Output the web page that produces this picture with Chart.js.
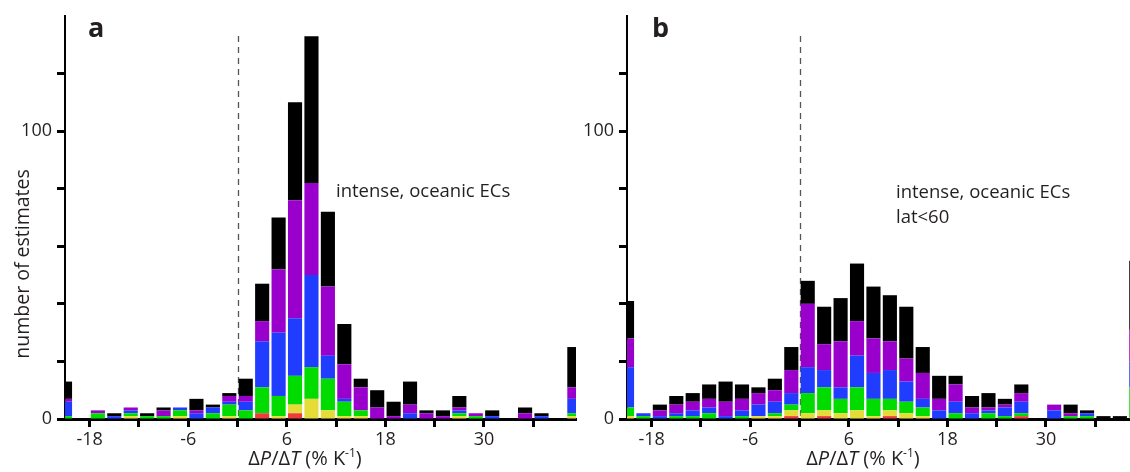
<!DOCTYPE html>
<html>
<head>
<meta charset="utf-8">
<script src="https://cdn.jsdelivr.net/npm/chart.js@4.4.1/dist/chart.umd.min.js"></script>
<style>
  html, body { margin: 0; padding: 0; background: #fff; overflow: hidden; }
  #wrap { position: relative; width: 1130px; height: 472px; }
  canvas { position: absolute; top: 0; }
  #ca { left: 0; }
  #cb { left: 580px; }
</style>
</head>
<body>
<div id="wrap">
  <canvas id="ca" width="580" height="472"></canvas>
  <canvas id="cb" width="550" height="472"></canvas>
</div>
<script>
// bin centres (bins 2 % K-1 wide; end bins hold everything beyond)
const bins = [-21, -19, -17, -15, -13, -11, -9, -7, -5, -3, -1, 1, 3, 5, 7, 9,
              11, 13, 15, 17, 19, 21, 23, 25, 27, 29, 31, 33, 35, 37, 39, 41];

// panel a: intense, oceanic ECs
const aRed    = [0,0,0,0,0,0,0,0,0,0,0,0,2,0,2,0,0,0,0,0,0,0,0,0,0,0,0,0,0,0,0,0];
const aYellow = [0,0,0,0,1,0,0,1,0,0,1,0,0,1,3,7,3,1,1,0,0,0,0,0,1,0,0,0,0,0,0,1];
const aGreen  = [1,0,2,0,1,1,1,2,0,2,4,3,9,7,10,11,11,5,2,0,0,0,0,0,1,1,0,0,0,0,0,1];
const aBlue   = [5,0,0,1,1,0,0,1,2,2,1,3,16,22,20,32,8,1,0,0,0,2,0,0,1,0,1,0,0,1,0,5];
const aPurple = [1,0,1,0,1,0,2,0,1,0,2,2,7,22,41,32,24,12,8,4,1,3,2,1,1,1,0,0,2,0,0,4];
const aBlack  = [6,0,0,1,0,1,1,0,4,1,1,6,13,18,34,51,26,14,3,6,5,8,1,2,4,0,2,0,2,1,0,14];

// panel b: intense, oceanic ECs, lat<60
const bRed    = [0,0,0,0,0,0,0,0,0,0,1,0,1,0,0,0,1,0,0,0,0,0,0,0,1,0,0,0,0,0,0,0];
const bYellow = [1,0,0,0,0,0,0,0,1,1,2,2,2,2,3,1,2,2,1,0,0,0,0,0,0,0,0,0,0,0,0,0];
const bGreen  = [3,1,0,1,1,2,0,1,0,1,2,7,8,5,8,6,4,4,3,0,2,0,2,1,1,0,0,1,1,0,0,11];
const bBlue   = [14,1,1,1,2,2,1,2,4,4,4,9,6,4,11,9,10,7,3,3,4,2,1,3,4,0,3,0,1,0,0,9];
const bPurple = [10,0,2,3,3,3,5,4,4,4,8,22,9,16,12,12,10,8,9,4,6,2,1,1,3,0,2,1,0,0,0,11];
const bBlack  = [13,0,2,3,3,5,7,5,2,4,8,8,13,15,20,18,16,18,9,8,3,4,5,2,3,0,0,3,1,1,1,24];

const xTicks = [-18, -12, -6, 0, 6, 12, 18, 24, 30, 36];
const xLabels = [-18, -6, 6, 18, 30];
const yTicks = [0, 20, 40, 60, 80, 100, 120];
const yLabels = [0, 100];

const colors = ['#ee3b3b', '#e5dc38', '#00dc00', '#1f3cff', '#9a00cc', '#000000'];
const seriesNames = ['red', 'yellow', 'green', 'blue', 'purple', 'black'];
const TEXT = '#231f20';
const FONT = '"Open Sans", "DejaVu Sans", sans-serif';

const xTitleParts = [
  { t: 'Δ' }, { t: 'P', it: true }, { t: '/Δ' }, { t: 'T', it: true },
  { t: ' (% K' }, { t: '-1', sup: true }, { t: ')' }
];

function drawRich(ctx, parts, cx, base, size) {
  const fontFor = p => (p.it ? 'italic ' : '') + (p.sup ? Math.round(size * 0.6) : size) + 'px ' + FONT;
  let total = 0;
  parts.forEach(p => { ctx.font = fontFor(p); p.w = ctx.measureText(p.t).width; total += p.w; });
  let x = cx - total / 2;
  ctx.textAlign = 'left';
  parts.forEach(p => {
    ctx.font = fontFor(p);
    ctx.fillText(p.t, x, p.sup ? base - size * 0.42 : base);
    x += p.w;
  });
}

const panelText = {
  id: 'panelText',
  beforeDatasetsDraw(chart, args, o) {
    const ctx = chart.ctx;
    const x0 = Math.round(chart.scales.x.getPixelForValue(0)) + 0.5;
    ctx.save();
    ctx.strokeStyle = '#555';
    ctx.lineWidth = 1.3;
    ctx.setLineDash([6, 5]);
    ctx.beginPath();
    ctx.moveTo(x0, o.dashTop);
    ctx.lineTo(x0, chart.scales.y.getPixelForValue(0));
    ctx.stroke();
    ctx.restore();
  },
  afterDraw(chart, args, o) {
    const ctx = chart.ctx;
    ctx.save();
    ctx.fillStyle = TEXT;
    ctx.textBaseline = 'alphabetic';
    ctx.textAlign = 'left';
    ctx.font = 'bold 27px ' + FONT;
    ctx.fillText(o.letter.t, o.letter.x, o.letter.y);
    ctx.font = '18.5px ' + FONT;
    o.notes.forEach(n => ctx.fillText(n.t, n.x, n.y));
    if (o.ytitle) {
      ctx.save();
      ctx.translate(o.ytitle.x, o.ytitle.y);
      ctx.rotate(-Math.PI / 2);
      ctx.textAlign = 'center';
      ctx.font = '19.5px ' + FONT;
      ctx.fillText(o.ytitle.t, 0, 0);
      ctx.restore();
    }
    drawRich(ctx, xTitleParts, o.xtitle.x, o.xtitle.y, 20);
    ctx.restore();
  }
};

function makeDatasets(series) {
  return series.map((vals, i) => ({
    label: seriesNames[i],
    data: bins.map((b, j) => ({ x: b, y: vals[j] })),
    backgroundColor: colors[i],
    borderWidth: 0,
    barPercentage: 0.86,
    categoryPercentage: 1,
    clip: 0
  }));
}

function makeChart(id, series, xMax, yAxisWidth, padRight, texts) {
  return new Chart(document.getElementById(id), {
    type: 'bar',
    data: { datasets: makeDatasets(series) },
    plugins: [panelText],
    options: {
      responsive: false,
      animation: false,
      devicePixelRatio: 1,
      layout: { padding: { top: 16, right: padRight, bottom: 0, left: 0 } },
      plugins: {
        legend: { display: false },
        tooltip: { enabled: false },
        panelText: texts
      },
      scales: {
        x: {
          type: 'linear', min: -21, max: xMax, offset: false, stacked: true,
          afterBuildTicks: s => { s.ticks = xTicks.map(v => ({ value: v })); },
          afterFit: s => { s.height = 53; },
          grid: { drawOnChartArea: false, offset: false, tickLength: 8, tickWidth: 3, tickColor: '#000' },
          border: { color: '#000', width: 3 },
          ticks: {
            autoSkip: false, maxRotation: 0, padding: 2, color: TEXT,
            font: { family: FONT, size: 18 },
            callback: v => xLabels.includes(v) ? String(v) : ''
          }
        },
        y: {
          type: 'linear', min: 0, max: 140, stacked: true,
          afterBuildTicks: s => { s.ticks = yTicks.map(v => ({ value: v })); },
          afterFit: s => { s.width = yAxisWidth; },
          grid: { drawOnChartArea: false, tickLength: 8, tickWidth: 3, tickColor: '#000' },
          border: { color: '#000', width: 2 },
          ticks: {
            padding: 5, color: TEXT,
            font: { family: FONT, size: 18 },
            callback: v => yLabels.includes(v) ? String(v) : ''
          }
        }
      }
    }
  });
}

makeChart('ca', [aRed, aYellow, aGreen, aBlue, aPurple, aBlack], 41.2, 65, 4, {
  dashTop: 36,
  letter: { t: 'a', x: 88, y: 37 },
  ytitle: { t: 'number of estimates', x: 29, y: 264 },
  notes: [{ t: 'intense, oceanic ECs', x: 336, y: 197 }],
  xtitle: { x: 305, y: 465 }
});

makeChart('cb', [bRed, bYellow, bGreen, bBlue, bPurple, bBlack], 40.23, 47, 0, {
  dashTop: 36,
  letter: { t: 'b', x: 72, y: 37 },
  notes: [{ t: 'intense, oceanic ECs', x: 316, y: 198 }, { t: 'lat<60', x: 316, y: 223 }],
  xtitle: { x: 283, y: 465 }
});
</script>
</body>
</html>
